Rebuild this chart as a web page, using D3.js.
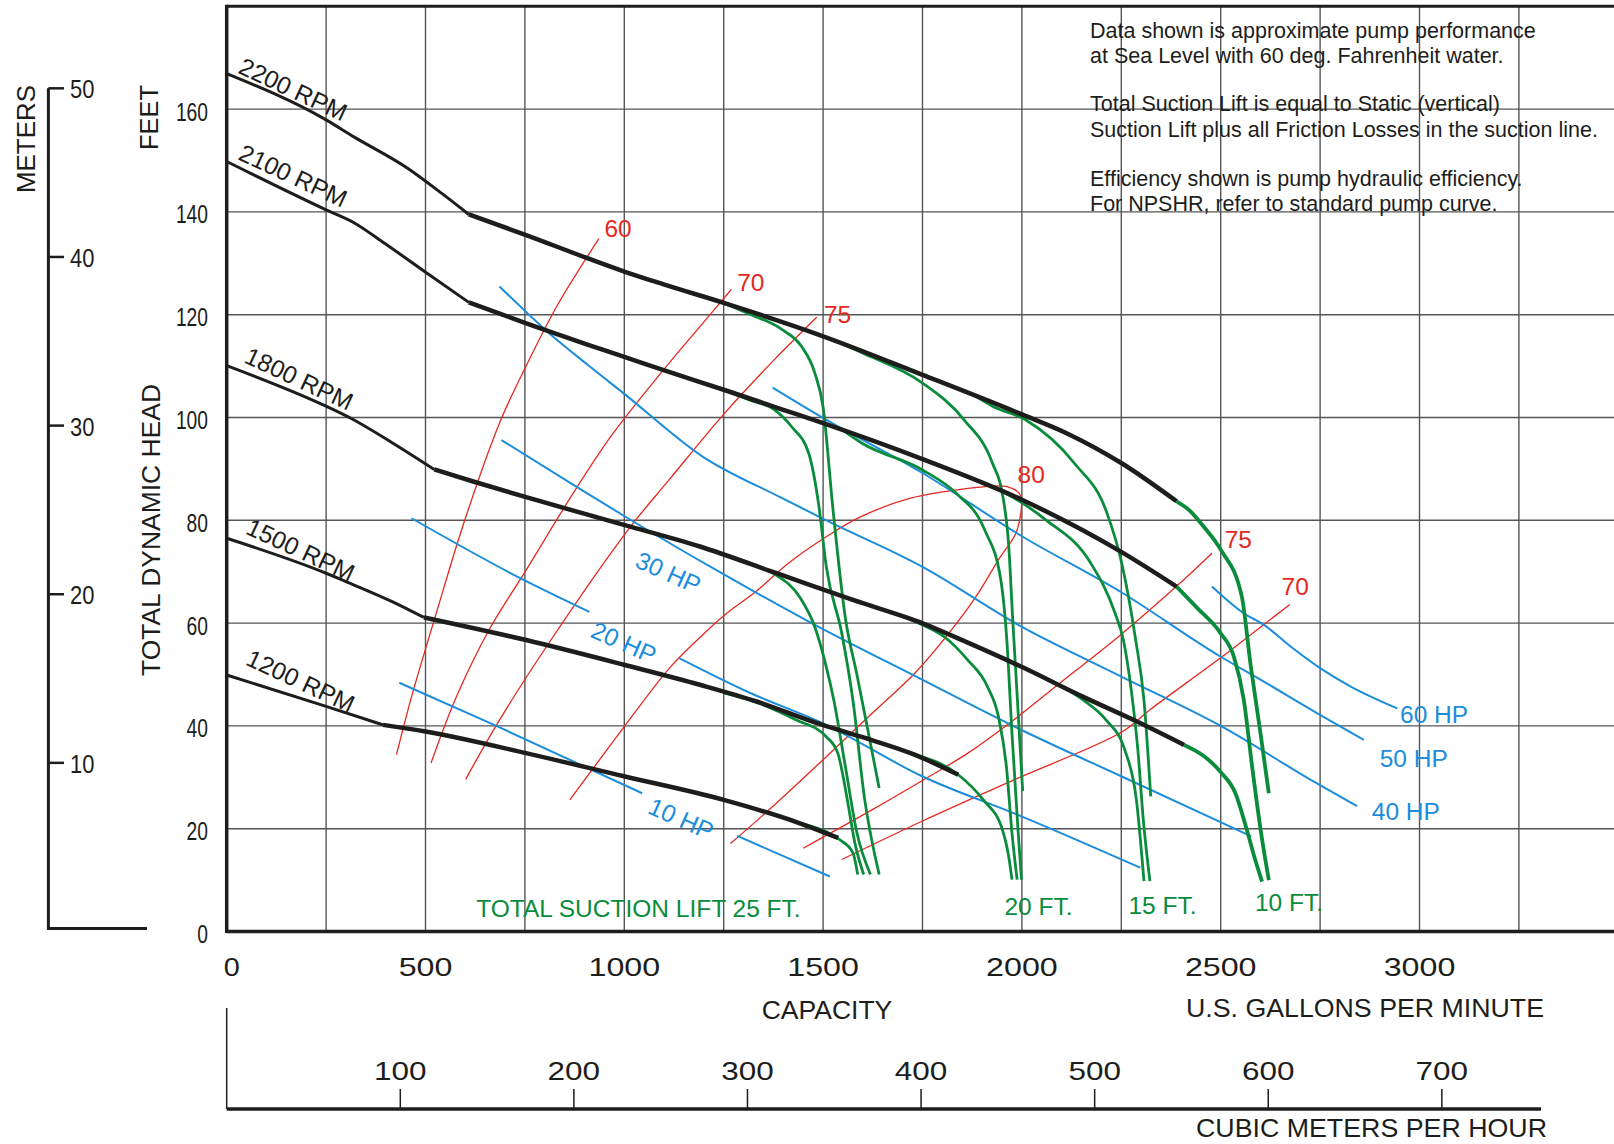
<!DOCTYPE html>
<html>
<head>
<meta charset="utf-8">
<script src="https://cdn.jsdelivr.net/npm/d3@7"></script>
<style>
body { margin: 0; background: #fff; }
text { font-family: "Liberation Sans", Arial, sans-serif; }
</style>
</head>
<body>
<svg width="1614" height="1144"></svg>
<script>
// ================= DATA (gpm, feet) =================
const gpmTicks = [0, 500, 1000, 1500, 2000, 2500, 3000];
const ftTicks = [0, 20, 40, 60, 80, 100, 120, 140, 160];
const meterTicks = [10, 20, 30, 40, 50];
const m3hTicks = [100, 200, 300, 400, 500, 600, 700];

// pump head curves: thin part up to the knee, then heavy part
const head2200Low = [[0,166.9],[250,157.9],[320,154.6],[455,148.5],[541,143.6],[609,139.5]];
const head2200 = [[609,139.5],[753,135.5],[907,131],[1000,128.4],[1099,125.9],[1250,122.3],[1392,118.7],[1500,115.8],[1750,108.3],[2000,100.6],[2111,97],[2251,91.1],[2389,83.7]];
const head2100Low = [[0,149.8],[250,140.4],[320,137.9],[397,133.9],[503,128.1],[609,122.4]];
const head2100 = [[609,122.4],[750,118.4],[907,114.2],[1000,111.8],[1099,109.2],[1250,105.4],[1392,101.7],[1500,98.9],[1750,91.9],[2000,84],[2251,73.8],[2389,67.1]];
const head1800Low = [[0,110.1],[250,102.2],[311,99.9],[416,95.1],[522,89.9]];
const head1800 = [[522,89.9],[618,87.6],[753,84.5],[999,79.1],[1190,74.9],[1383,69.7],[1575,64.5],[1749,60],[1864,56.2],[1999,51.5],[2153,45.7],[2288,40.9],[2408,36.3]];
const head1500Low = [[0,76.5],[250,69.7],[290,68.4],[424,63.9],[496,61.1]];
const head1500 = [[496,61.1],[753,56.7],[999,51.9],[1190,48],[1335,44.7],[1479,40.7],[1595,37.9],[1730,34.4],[1840,30.5]];
const head1200Low = [[0,49.9],[250,43.8],[393,40.2]];
const head1200 = [[393,40.2],[500,38.9],[753,34.7],[999,30.2],[1250,25.6],[1440,21.1],[1538,18.2]];

// total suction lift limits (green)
const lift25 = [
  [[1250,122.3],[1310,120.3],[1397,117.1],[1445,113.9],[1479,108.7],[1500,102],[1525,82],[1556,61],[1585,50],[1614,38.6],[1641,27.9]],
  [[1250,105.4],[1315,103.4],[1378,101.5],[1421,98.2],[1464,93],[1489,83],[1508,71],[1547,58],[1575,45],[1604,26],[1641,11.1]],
  [[1250,73.3],[1330,71.3],[1383,69.3],[1441,65.1],[1479,59.3],[1508,51.5],[1527,45],[1556,32.1],[1585,19.2],[1619,11.1]],
  [[1250,46.4],[1335,44.5],[1431,41.2],[1508,37.9],[1537,34.7],[1561,25.6],[1580,17.2],[1602,11.1]],
  [[1440,21.1],[1508,19.4],[1543,17.8],[1575,15.3],[1587,11.1]]
];
const lift20 = [
  [[1550,114.3],[1598,112.6],[1750,106.7],[1854,99.6],[1926,91.1],[1952,84.7],[1967,74.9],[1976,62],[1985,50],[1994,38],[2002,27.3]],
  [[1550,97.5],[1598,95],[1750,89.8],[1834,85.3],[1906,78.2],[1947,68.4],[1962,56.8],[1975,38.6],[1990,20],[1999,10.1]],
  [[1700,61.3],[1749,59.7],[1807,57.2],[1864,52.8],[1913,47.7],[1941,41.8],[1961,32.1],[1975,19.2],[1988,10.1]],
  [[1730,34.4],[1840,30.5],[1903,25.6],[1951,19.8],[1968,14],[1975,10.1]]
];
const lift15 = [
  [[1880,104.3],[1926,102.2],[2008,99.6],[2132,91.1],[2214,81.4],[2251,71.7],[2286,56.8],[2307,45],[2324,26.3]],
  [[1900,87.2],[1957,85.3],[2060,80.1],[2173,71.7],[2234,62],[2255,56.8],[2275,47],[2292,35],[2305,22],[2322,9.8]],
  [[2000,51.5],[2057,49.4],[2153,45.1],[2211,41.2],[2259,35.3],[2288,25.6],[2307,9.8]]
];
const lift10 = [
  [[2389,83.7],[2419,82.1],[2460,78.5],[2500,74.3],[2553,65.2],[2575,52],[2600,38.6],[2621,26.9]],
  [[2389,67.1],[2440,63],[2499,58.1],[2533,53.5],[2558,45.1],[2579,32.1],[2600,20],[2621,10]],
  [[2408,36.3],[2460,34],[2499,31.1],[2537,26.9],[2566,19.7],[2587,13.9],[2604,9.7]]
];

// efficiency (red)
const eff60 = [[427,34.4],[465,45.7],[527,61.9],[599,80.1],[686,98.9],[753,110],[830,121.6],[936,134.8]];
const eff70a = [[514,32.8],[578,45.7],[660,58.7],[753,70.3],[866,84.6],[968,96.5],[1099,109.3],[1186,117.3],[1269,124.9]];
const eff75a = [[601,29.6],[681,40.5],[804,55.4],[1009,78.1],[1112,87.8],[1253,100.9],[1378,111.3],[1484,119.5]];
const eff80 = [[863,25.6],[984,38.2],[1114,51.3],[1190,57.2],[1248,61.3],[1335,66.4],[1412,71.6],[1508,76.8],[1595,80.7],[1720,84.3],[1864,86.2],[1941,86.7],[1965,86.5],[1994,85.2],[1999,83.9],[1997,81.3],[1985,77.5],[1941,72.3],[1884,65.1],[1816,58],[1730,50.2],[1624,42.5],[1508,34],[1383,25],[1267,17.1]];
const eff75b = [[1450,16.2],[1624,23.7],[1768,30.2],[1864,34.7],[1990,41.8],[2095,48.3],[2245,57.5],[2388,67.1],[2478,73.6]];
const eff70b = [[1547,14],[1750,21.5],[1980,29.5],[2251,38.8],[2323,43.2],[2499,53.2],[2608,59.7],[2674,63.6]];

// horsepower (blue)
const hp10a = [[434,48.4],[681,39.9],[1045,26.9]];
const hp10b = [[1284,18.6],[1517,10.7]];
const hp20a = [[465,80.4],[732,69],[912,62.2]];
const hp20b = [[1138,53.2],[1317,46.4],[1500,40.5],[1749,30.2],[1999,22.4],[2298,12.4]];
const hp30 = [[691,95.6],[866,87.2],[1009,80.4],[1245,69.7],[1471,60],[1749,49],[1999,39.2],[2250,30.2],[2577,18.5]];
const hp40 = [[686,125.5],[811,116.4],[907,110.3],[1000,104.6],[1195,92.5],[1392,84.5],[1508,80],[1749,71],[1999,59.3],[2250,49.6],[2500,40],[2742,28.8],[2843,24.4]];
const hp50 = [[1373,105.8],[1491,100.3],[1750,89.2],[2000,76.9],[2250,66],[2499,53.5],[2600,49],[2742,42.5],[2860,37.3]];
const hp60 = [[2478,67.1],[2558,61.9],[2608,59.7],[2675,55.5],[2751,51.2],[2826,47.7],[2944,43.4]];

// labels
const rpmNames = ["2200 RPM", "2100 RPM", "1800 RPM", "1500 RPM", "1200 RPM"];
const rpmLabelAt = [[26,167.1],[26,150.3],[41,110.8],[45,77.5],[45,52.0]];
const effNames = ["60", "70", "75", "80", "75", "70"];
const effLabelAt = [[950,135.2],[1284,124.7],[1502,118.4],[1989,87.2],[2510,74.6],[2653,65.5]];
const hpNames = ["10 HP", "20 HP", "30 HP", "40 HP", "50 HP", "60 HP"];
const hpLabelAt = [[1056,23.1],[912,57.4],[1024,71.0],[2880,21.7],[2900,32.1],[2951,40.5]];
const hpLabelTilt = [24, 24, 24, 0, 0, 0];
const liftNames = ["TOTAL SUCTION LIFT 25 FT.", "20 FT.", "15 FT.", "10 FT."];
const liftLabelAt = [[627.5,2.9],[1956,3.2],[2268,3.5],[2586,3.9]];
const notes = [
  "Data shown is approximate pump performance",
  "at Sea Level with 60 deg. Fahrenheit water.",
  "Total Suction Lift is equal to Static (vertical)",
  "Suction Lift plus all Friction Losses in the suction line.",
  "Efficiency shown is pump hydraulic efficiency.",
  "For NPSHR, refer to standard pump curve."
];
const noteBaselines = [38, 63, 111, 137, 186, 211];

// ================= SCALES =================
const svg = d3.select("svg");
const W = 1614;
const x = d3.scaleLinear().domain([0, 3000]).range([226.7, 1419.5]);
const y = d3.scaleLinear().domain([0, 180]).range([931.5, 6.3]);
const ftPerMeter = 3.28084;
const gpmPerM3h = 4.366;
const xm = d => x(d * gpmPerM3h);

const RED = "#e4291f", BLUE = "#1b8ddb", GREEN = "#0a8c3c", BLACK = "#1d1d1b";

const smooth = d3.line()
  .x(d => x(d[0]))
  .y(d => y(d[1]))
  .curve(d3.curveMonotoneX);
const loose = d3.line()
  .x(d => x(d[0]))
  .y(d => y(d[1]))
  .curve(d3.curveCatmullRom.alpha(0.5));

// ================= GRID =================
const grid = svg.append("g").attr("stroke", "#555").attr("stroke-width", 1.4);
grid.selectAll(".vg").data(d3.range(250, 3501, 250)).join("line")
  .attr("x1", d => x(d)).attr("x2", d => x(d))
  .attr("y1", y(180)).attr("y2", y(0));
grid.selectAll(".hg").data(ftTicks.filter(d => d > 0)).join("line")
  .attr("x1", x(0)).attr("x2", W)
  .attr("y1", d => y(d)).attr("y2", d => y(d));

// frame
svg.append("line").attr("x1", x(0)).attr("x2", W).attr("y1", y(180)).attr("y2", y(180))
  .attr("stroke", BLACK).attr("stroke-width", 3);
svg.append("line").attr("x1", x(0)).attr("x2", x(0)).attr("y1", y(180) - 1.5).attr("y2", y(0) + 1.5)
  .attr("stroke", BLACK).attr("stroke-width", 3.5);
svg.append("line").attr("x1", x(0)).attr("x2", W).attr("y1", y(0)).attr("y2", y(0))
  .attr("stroke", BLACK).attr("stroke-width", 3.5);

// ================= CURVES =================
function draw(list, color, width, gen) {
  svg.append("g").selectAll("path").data(list).join("path")
    .attr("d", gen)
    .attr("fill", "none")
    .attr("stroke", color)
    .attr("stroke-width", width)
    .attr("stroke-linejoin", "round");
}

draw([eff60, eff70a, eff75a, eff80, eff75b, eff70b], RED, 1.3, loose);
draw([hp10a, hp10b, hp20a, hp20b, hp30, hp40, hp50, hp60], BLUE, 2, smooth);
draw([...lift25, ...lift20, ...lift15], GREEN, 2.8, smooth);
draw(lift10, GREEN, 3.8, smooth);
draw([head2200Low, head2100Low, head1800Low, head1500Low, head1200Low], BLACK, 3, smooth);
draw([head2200, head2100, head1800, head1500, head1200], BLACK, 4.5, smooth);

// ================= LABELS =================
svg.append("g").selectAll("text").data(rpmNames).join("text")
  .attr("transform", (d, i) => `translate(${x(rpmLabelAt[i][0])},${y(rpmLabelAt[i][1])}) rotate(25)`)
  .attr("font-size", 24.5).attr("fill", BLACK)
  .text(d => d);

svg.append("g").selectAll("text").data(effNames).join("text")
  .attr("x", (d, i) => x(effLabelAt[i][0]))
  .attr("y", (d, i) => y(effLabelAt[i][1]))
  .attr("font-size", 24.5).attr("fill", RED)
  .text(d => d);

svg.append("g").selectAll("text").data(hpNames).join("text")
  .attr("transform", (d, i) => `translate(${x(hpLabelAt[i][0])},${y(hpLabelAt[i][1])}) rotate(${hpLabelTilt[i]})`)
  .attr("font-size", 24.5).attr("fill", BLUE)
  .text(d => d);

svg.append("g").selectAll("text").data(liftNames).join("text")
  .attr("x", (d, i) => x(liftLabelAt[i][0]))
  .attr("y", (d, i) => y(liftLabelAt[i][1]))
  .attr("font-size", 24.5).attr("fill", GREEN)
  .text(d => d);

svg.append("g").selectAll("text").data(notes).join("text")
  .attr("x", 1090)
  .attr("y", (d, i) => noteBaselines[i])
  .attr("font-size", 21.5).attr("fill", BLACK)
  .text(d => d);

// ================= AXES =================
// feet (left of plot)
svg.append("g").selectAll("text").data(ftTicks).join("text")
  .attr("x", 208).attr("y", d => y(d)).attr("dy", "0.46em")
  .attr("text-anchor", "end")
  .attr("font-size", 25).attr("fill", BLACK)
  .attr("textLength", d => String(d).length * 10.7)
  .attr("lengthAdjust", "spacingAndGlyphs")
  .text(d => d);

// meters
const mAxis = svg.append("g").attr("stroke", BLACK);
mAxis.append("line").attr("x1", 48.4).attr("x2", 48.4)
  .attr("y1", y(50 * ftPerMeter)).attr("y2", y(0) - 2).attr("stroke-width", 3);
mAxis.append("line").attr("x1", 47).attr("x2", 147)
  .attr("y1", y(0) - 3).attr("y2", y(0) - 3).attr("stroke-width", 3);
mAxis.selectAll(".mt").data(meterTicks).join("line")
  .attr("x1", 48.4).attr("x2", 64)
  .attr("y1", d => y(d * ftPerMeter)).attr("y2", d => y(d * ftPerMeter))
  .attr("stroke-width", 2.5);
svg.append("g").selectAll("text").data(meterTicks).join("text")
  .attr("x", 70).attr("y", d => y(d * ftPerMeter)).attr("dy", "0.4em")
  .attr("font-size", 25).attr("fill", BLACK)
  .attr("textLength", d => String(d).length * 12.2)
  .attr("lengthAdjust", "spacingAndGlyphs")
  .text(d => d);

// gpm tick labels
svg.append("g").selectAll("text").data(gpmTicks).join("text")
  .attr("x", d => x(d) + (d === 0 ? 5 : 0)).attr("y", 976)
  .attr("text-anchor", "middle")
  .attr("font-size", 25.6).attr("fill", BLACK)
  .attr("textLength", d => d === 0 ? 16 : String(d).length * 17.9)
  .attr("lengthAdjust", "spacingAndGlyphs")
  .text(d => d);

// cubic meters per hour axis
const m3 = svg.append("g").attr("stroke", BLACK);
m3.append("line").attr("x1", x(0)).attr("x2", x(0)).attr("y1", 1008).attr("y2", 1109).attr("stroke-width", 1.5);
m3.append("line").attr("x1", x(0)).attr("x2", 1541).attr("y1", 1109).attr("y2", 1109).attr("stroke-width", 3.5);
m3.selectAll(".tk").data(m3hTicks).join("line")
  .attr("x1", d => xm(d)).attr("x2", d => xm(d))
  .attr("y1", 1089).attr("y2", 1109).attr("stroke-width", 1.5);
svg.append("g").selectAll("text").data(m3hTicks).join("text")
  .attr("x", d => xm(d)).attr("y", 1080)
  .attr("text-anchor", "middle")
  .attr("font-size", 25.6).attr("fill", BLACK)
  .attr("textLength", d => String(d).length * 17.5)
  .attr("lengthAdjust", "spacingAndGlyphs")
  .text(d => d);

// axis titles
const titles = svg.append("g").attr("fill", BLACK).attr("font-size", 26.5);
titles.append("text").attr("x", 827).attr("y", 1019).attr("text-anchor", "middle").text("CAPACITY");
titles.append("text").attr("x", 1186).attr("y", 1017).attr("textLength", 358).attr("lengthAdjust", "spacingAndGlyphs").text("U.S. GALLONS PER MINUTE");
titles.append("text").attr("x", 1196).attr("y", 1137).attr("textLength", 351).attr("lengthAdjust", "spacingAndGlyphs").text("CUBIC METERS PER HOUR");
titles.append("text").attr("transform", "translate(35,139) rotate(-90)").attr("text-anchor", "middle")
  .attr("textLength", 108).attr("lengthAdjust", "spacingAndGlyphs").text("METERS");
titles.append("text").attr("transform", "translate(158,117.5) rotate(-90)").attr("text-anchor", "middle")
  .attr("textLength", 65).attr("lengthAdjust", "spacingAndGlyphs").text("FEET");
titles.append("text").attr("transform", "translate(159.5,530) rotate(-90)").attr("text-anchor", "middle")
  .attr("textLength", 292).attr("lengthAdjust", "spacingAndGlyphs").text("TOTAL DYNAMIC HEAD");
</script>
</body>
</html>
